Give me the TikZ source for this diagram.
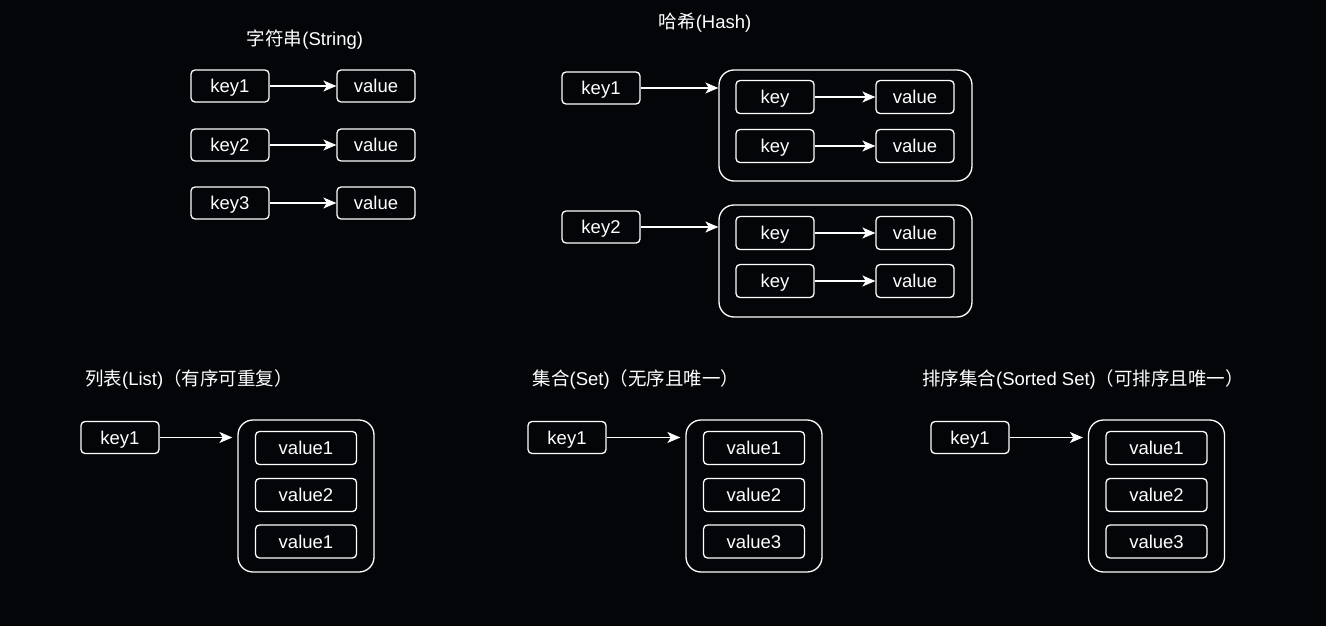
\documentclass[tikz,border=0pt]{standalone}
\usepackage{fontspec}
\setmainfont{Liberation Sans}
\newfontfamily\cjk{Noto Sans CJK SC}
\usetikzlibrary{arrows.meta}
\definecolor{bg}{RGB}{3,5,8}

\begin{document}
\begin{tikzpicture}[x = 1pt, y = -1pt,
        font = \fontsize{18.5}{21}\selectfont,
        every node/.style = {text = white},
        title/.style = {font = \fontsize{18.5}{22}\selectfont},
        cell/.style = {draw = white, line width = 1.3pt, rounded corners = 4pt, fill = bg,
            minimum width = 78pt, minimum height = 32pt, text height = 13pt, text depth = 0pt},
        wide/.style = {cell, minimum width = 101pt, minimum height = 33pt},
        holder/.style = {draw = white, line width = 1.3pt, rounded corners = 15pt},
        link/.style = {-{Stealth[length = 13pt, width = 11pt, inset = 3.5pt]}, white, line width = 1.3pt}]

        \fill[bg] (0, 0) rectangle (1326, 626);

        % string
        \node[title] (tString) at (305, 40) {\cjk 字符串\normalfont(String)};
        \foreach \i/\y in {1/86, 2/145, 3/203} {
            \node[cell] (sKey\i) at (230, \y) {key\i};
            \node[cell] (sVal\i) at (376, \y) {value};
            \draw[link] (sKey\i) -- (sVal\i);
        }

        % hash
        \node[title] (tHash) at (705, 23) {\cjk 哈希\normalfont(Hash)};
        \node[holder, minimum width = 253pt, minimum height = 111pt] (hBox1) at (845.5, 125.5) {};
        \node[holder, minimum width = 253pt, minimum height = 112pt] (hBox2) at (845.5, 261) {};
        \node[cell] (hKey1) at (601, 88) {key1};
        \node[cell] (hKey2) at (601, 227) {key2};
        \draw[link] (hKey1) -- (hKey1 -| hBox1.west);
        \draw[link] (hKey2) -- (hKey2 -| hBox2.west);
        \foreach \j/\y in {a/97, b/146, c/233, d/281} {
            \node[cell, minimum height = 33pt] (hField\j) at (775, \y) {key};
            \node[cell, minimum height = 33pt] (hVal\j) at (915, \y) {value};
            \draw[link] (hField\j) -- (hVal\j);
        }

        % list, set, sorted set
        \node[title] (tList) at (189, 379) {\cjk 列表\normalfont(List)\cjk（有序可重复）};
        \node[title] (tSet) at (636, 379) {\cjk 集合\normalfont(Set)\cjk（无序且唯一）};
        \node[title] (tZset) at (1083, 379) {\cjk 排序集合\normalfont(Sorted Set)\cjk（可排序且唯一）};

        \foreach \n/\kx/\bx/\va/\vb/\vc in {list/120/306/value1/value2/value1,
                set/567/754/value1/value2/value3, zset/970/1156.5/value1/value2/value3} {
            \node[cell] (\n Key) at (\kx, 437.5) {key1};
            \node[holder, minimum width = 136pt, minimum height = 152pt] (\n Box) at (\bx, 496) {};
            \node[wide] (\n Val1) at (\bx, 448) {\va};
            \node[wide] (\n Val2) at (\bx, 495) {\vb};
            \node[wide] (\n Val3) at (\bx, 541.5) {\vc};
            \draw[link, shorten > = 5pt] (\n Key) -- (\n Key -| \n Box.west);
        }
    \end{tikzpicture}
\end{document}
